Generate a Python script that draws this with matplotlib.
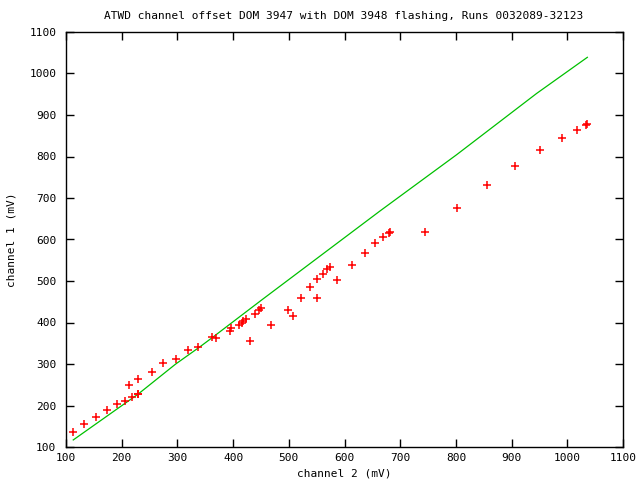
import matplotlib
matplotlib.use("Agg")
import matplotlib.pyplot as plt

# Measured points (channel 2 vs channel 1, mV)
ch2 = [113, 133, 153, 173, 191, 206, 214, 219, 229, 230, 230, 255, 275, 298,
       319, 337, 363, 370, 395, 397, 411, 416, 418, 423, 431, 440, 447, 450,
       468, 499, 508, 522, 538, 551, 551, 562, 569, 574, 587, 614, 637, 655,
       670, 680, 682, 745, 802, 856, 906, 951, 991, 1018, 1033, 1036]
ch1 = [135, 155, 172, 189, 203, 212, 249, 221, 227, 228, 265, 281, 302, 311,
       333, 340, 364, 362, 380, 387, 393, 399, 403, 408, 355, 420, 429, 434,
       393, 429, 415, 458, 485, 504, 460, 518, 528, 533, 502, 538, 567, 591,
       605, 615, 617, 617, 675, 731, 776, 815, 844, 863, 876, 878]

# Green reference line
line_x = [113, 230, 297, 340, 363, 451, 664, 801, 945, 1036]
line_y = [117, 228, 300, 341, 364, 454, 669, 804, 952, 1039]

title = "ATWD channel offset DOM 3947 with DOM 3948 flashing, Runs 0032089-32123"
xticks = [100, 200, 300, 400, 500, 600, 700, 800, 900, 1000, 1100]
yticks = [100, 200, 300, 400, 500, 600, 700, 800, 900, 1000, 1100]

plt.rcParams['font.family'] = ['DejaVu Sans Mono']
fs = 8.0

fig = plt.figure(figsize=(6.4, 4.8), dpi=100)
ax = fig.add_axes([66/640, 1 - 447/480, (623 - 66)/640, (447 - 32)/480])

ax.plot(line_x, line_y, color='#00c000', linewidth=0.9, zorder=2)
ax.plot(ch2, ch1, linestyle='none', marker='+', markersize=5.5, markeredgewidth=1.1,
        color='#ff0000', zorder=3)

ax.set_xlim(100, 1100)
ax.set_ylim(100, 1100)
ax.set_xticks(xticks)
ax.set_yticks(yticks)
ax.set_xticklabels([str(t) for t in xticks], fontsize=fs)
ax.set_yticklabels([str(t) for t in yticks], fontsize=fs)
ax.tick_params(direction='in', length=6, width=1, top=True, right=True)
ax.tick_params(axis='x', pad=4)
ax.tick_params(axis='y', pad=7)
for s in ax.spines.values():
    s.set_linewidth(1.0)

fig.text(344/640, 1 - 473/480, "channel 2 (mV)", fontsize=fs, ha='center', va='center')
fig.text(12/640, 1 - 240/480, "channel 1 (mV)", fontsize=fs, ha='center', va='center',
         rotation=90)
fig.text(344/640, 1 - 16/480, title, fontsize=fs, ha='center', va='center')

fig.savefig("out.png", dpi=100)
